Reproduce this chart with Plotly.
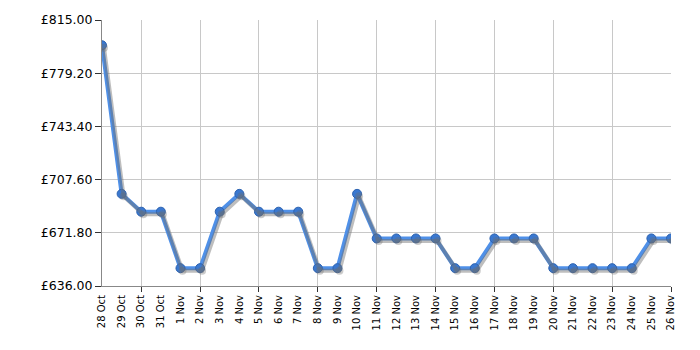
import plotly.graph_objects as go

dates = ["28 Oct","29 Oct","30 Oct","31 Oct","1 Nov","2 Nov","3 Nov","4 Nov","5 Nov","6 Nov",
         "7 Nov","8 Nov","9 Nov","10 Nov","11 Nov","12 Nov","13 Nov","14 Nov","15 Nov","16 Nov",
         "17 Nov","18 Nov","19 Nov","20 Nov","21 Nov","22 Nov","23 Nov","24 Nov","25 Nov","26 Nov"]
prices = [798, 698, 686, 686, 648, 648, 686, 698, 686, 686,
          686, 648, 648, 698, 668, 668, 668, 668, 648, 648,
          668, 668, 668, 648, 648, 648, 648, 648, 668, 668]
y_ticks = [636.00, 671.80, 707.60, 743.40, 779.20, 815.00]
y_labels = ["£%.2f" % v for v in y_ticks]

idx = list(range(len(dates)))
grid_idx = idx[2::3]

W, H = 700, 350
ml, mr, mt, mb = 102, 29, 20, 64
pw, ph = W - ml - mr, H - mt - mb
xr = [0, len(dates) - 1]
yr = [636, 815]
dxs = 2.0 * (xr[1] - xr[0]) / pw
dys = 2.5 * (yr[1] - yr[0]) / ph

fig = go.Figure()
# dummy trace to activate the grid axis
fig.add_trace(go.Scatter(x=[None], y=[None], xaxis="x2", yaxis="y", showlegend=False, hoverinfo="skip"))
# shadow
fig.add_trace(go.Scatter(x=idx, y=prices, xaxis="x3", yaxis="y3", mode="lines+markers",
                         line=dict(color="rgba(110,110,110,0.45)", width=4),
                         marker=dict(size=8, color="rgba(110,110,110,0.35)", line=dict(width=0)),
                         hoverinfo="skip", showlegend=False))
fig.add_trace(go.Scatter(x=idx, y=prices, mode="lines+markers",
                         line=dict(color="#4f90e8", width=4),
                         marker=dict(size=9, color="#3a78d0", line=dict(color="#2c62b0", width=1)),
                         showlegend=False))

fig.update_layout(
    width=W, height=H, margin=dict(l=ml, r=mr, t=mt, b=mb),
    paper_bgcolor="white", plot_bgcolor="white",
    font=dict(family="DejaVu Sans", color="#000"),
    xaxis=dict(range=xr, tickmode="array", tickvals=idx, ticktext=dates, tickangle=-90,
               tickfont=dict(size=10), showgrid=False, zeroline=False, ticks="outside",
               ticklen=4, tickcolor="rgba(0,0,0,0)",
               showline=True, linecolor="#888", linewidth=1),
    xaxis2=dict(range=xr, overlaying="x", tickmode="array", tickvals=grid_idx,
                showticklabels=False, showgrid=True, gridcolor="#c8c8c8", gridwidth=1,
                ticks="outside", ticklen=5, tickcolor="#333", zeroline=False, side="bottom",
                anchor="y"),
    yaxis=dict(range=yr, tickmode="array", tickvals=y_ticks, ticktext=y_labels,
               tickfont=dict(size=12.5), showgrid=True, gridcolor="#c8c8c8", zeroline=False,
               ticks="outside", ticklen=6, tickcolor="#333", showline=True, linecolor="#888",
               linewidth=1),
    xaxis3=dict(range=[xr[0] - dxs, xr[1] - dxs], overlaying="x", visible=False, anchor="y3"),
    yaxis3=dict(range=[yr[0] + dys, yr[1] + dys], overlaying="y", visible=False, anchor="x3"),
)

fig.write_html("out.html")
